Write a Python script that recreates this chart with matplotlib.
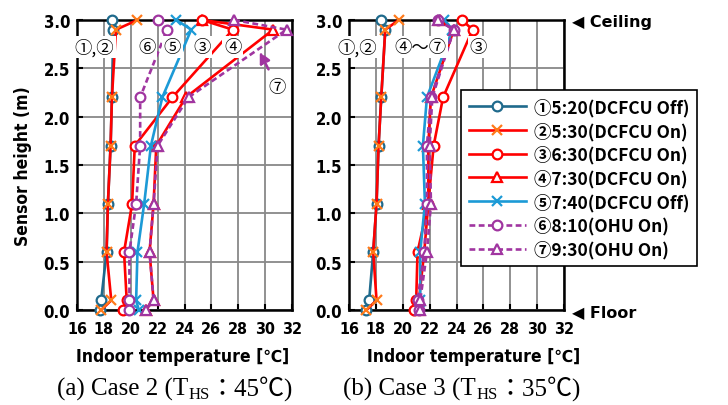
import matplotlib
matplotlib.use('Agg')

import matplotlib.pyplot as plt
from matplotlib.lines import Line2D

# sensor heights (m)
heights = [3.0, 2.9, 2.2, 1.7, 1.1, 0.6, 0.1, 0.0]

labels = ['①5:20(DCFCU Off)', '②5:30(DCFCU On)', '③6:30(DCFCU On)',
          '④7:30(DCFCU On)', '⑤7:40(DCFCU Off)', '⑥8:10(OHU On)', '⑦9:30(OHU On)']

# (a) Case 2 temperatures (degC)
case2_t1 = [18.6, 18.7, 18.6, 18.5, 18.3, 18.2, 17.8, 17.7]
case2_t2 = [20.5, 18.9, 18.6, 18.5, 18.3, 18.2, 18.55, 17.8]
case2_t3 = [25.3, 27.6, 23.1, 20.3, 20.1, 19.5, 19.7, 19.4]
case2_t4 = [25.3, 30.6, 24.1, 21.9, 21.7, 21.4, 21.7, 21.1]
case2_t5 = [23.4, 24.5, 22.35, 21.5, 21.0, 20.5, 20.4, 20.6]
case2_t6 = [22.0, 22.7, 20.7, 20.7, 20.4, 19.9, 19.9, 19.9]
case2_t7 = [27.7, 31.6, 24.3, 22.0, 21.7, 21.4, 21.7, 21.1]

# (b) Case 3 temperatures (degC)
case3_t1 = [18.4, 18.7, 18.4, 18.2, 18.05, 17.8, 17.5, 17.3]
case3_t2 = [19.7, 18.7, 18.4, 18.2, 18.05, 17.8, 18.05, 17.3]
case3_t3 = [24.4, 25.2, 23.0, 22.3, 21.9, 21.1, 21.0, 20.8]
case3_t4 = [22.8, 23.8, 22.1, 21.9, 21.9, 21.6, 21.2, 21.2]
case3_t5 = [23.1, 23.7, 21.8, 21.5, 21.65, 21.3, 21.3, 21.3]
case3_t6 = [22.6, 23.8, 22.1, 21.8, 21.8, 21.6, 21.1, 21.2]
case3_t7 = [22.6, 23.8, 22.2, 22.0, 22.1, 21.8, 21.3, 21.3]

xticks = [16, 18, 20, 22, 24, 26, 28, 30, 32]
yticks = [0.0, 0.5, 1.0, 1.5, 2.0, 2.5, 3.0]

TEAL = '#1f6a8c'
RED = '#ff0000'
ORANGE = '#ff7a1a'
BLUE = '#1c9ad6'
PURPLE = '#a035a0'

styles = [
    dict(color=TEAL, marker='o', ls='-', mfc='white', mec=TEAL, z=3.0),
    dict(color=RED, marker='x', ls='-', mfc='none', mec=ORANGE, z=3.1),
    dict(color=RED, marker='o', ls='-', mfc='white', mec=RED, z=3.3),
    dict(color=RED, marker='^', ls='-', mfc='white', mec=RED, z=3.2),
    dict(color=BLUE, marker='x', ls='-', mfc='none', mec=BLUE, z=3.4),
    dict(color=PURPLE, marker='o', ls=(0, (2.2, 1.3)), mfc='white', mec=PURPLE, z=3.5),
    dict(color=PURPLE, marker='^', ls=(0, (2.2, 1.3)), mfc='white', mec=PURPLE, z=3.6),
]

SANS = ['DejaVu Sans']
JP = ['Noto Sans CJK JP', 'DejaVu Sans']

fig = plt.figure(figsize=(7.28, 4.06), dpi=100)
W, H = 728, 406


def px_axes(x0, x1, y0, y1):
    return fig.add_axes([x0 / W, 1 - y1 / H, (x1 - x0) / W, (y1 - y0) / H])


ax_a = px_axes(77, 292, 21, 311)
ax_b = px_axes(349, 564, 21, 311)

for ax, data in [(ax_a, [case2_t1, case2_t2, case2_t3, case2_t4, case2_t5, case2_t6, case2_t7]),
                 (ax_b, [case3_t1, case3_t2, case3_t3, case3_t4, case3_t5, case3_t6, case3_t7])]:
    for vals, st, lab in zip(data, styles, labels):
        ax.plot(vals, heights, color=st['color'], ls=st['ls'], lw=1.9,
                marker=st['marker'], ms=7, mfc=st['mfc'], mec=st['mec'],
                mew=1.6, label=lab, clip_on=False, zorder=st['z'])
    ax.set_xlim(16, 32)
    ax.set_ylim(0, 3)
    ax.set_xticks(xticks)
    ax.set_yticks(yticks)
    ax.set_xticklabels([str(t) for t in xticks], family=SANS, fontweight='bold',
                       fontsize=11.5, fontstretch='condensed')
    ax.set_yticklabels([f'{t:.1f}' for t in yticks], family=SANS, fontweight='bold',
                       fontsize=12, fontstretch='condensed')
    ax.grid(True, color='#888888', lw=1.3)
    ax.set_axisbelow(True)
    ax.tick_params(direction='in', length=4, width=1.5, color='black')
    ax.tick_params(axis='x', pad=8)
    ax.tick_params(axis='y', pad=5)
    for sp in ax.spines.values():
        sp.set_linewidth(1.8)
        sp.set_color('black')
        sp.set_zorder(2.5)

fig.text(23 / W, 1 - 166 / H, 'Sensor height (m)', family=SANS, fontweight='bold',
         fontsize=12.5, fontstretch='condensed', rotation=90, ha='center', va='center')

box = dict(boxstyle='square,pad=0.1', fc='white', ec='none')
for txt, x in [('①,②', 17.3), ('⑥', 21.2), ('⑤', 23.1), ('③', 25.3), ('④', 27.6)]:
    ax_a.text(x, 2.72, txt, family=JP, fontsize=12.5, ha='center', va='center',
              bbox=box, zorder=6, clip_on=False)
ax_a.annotate('⑦', xy=(29.6, 2.67), xytext=(30.9, 2.31), family=JP, fontsize=12.5,
              ha='center', va='center', zorder=6,
              bbox=dict(boxstyle='square,pad=0.05', fc='white', ec='none'),
              arrowprops=dict(arrowstyle='-|>', color=PURPLE, lw=1.8, ls='--',
                              mutation_scale=16, shrinkA=6, shrinkB=0))

for txt, x in [('①,②', 16.6), ('④～⑦', 21.3), ('③', 25.6)]:
    ax_b.text(x, 2.72, txt, family=JP, fontsize=12.5, ha='center', va='center',
              bbox=box, zorder=6, clip_on=False)

for xc in (183, 474):
    fig.text(xc / W, 1 - 357 / H, 'Indoor temperature [℃]', family=['DejaVu Sans', 'Noto Sans CJK JP'],
             fontweight='bold', fontsize=12.5, fontstretch='condensed', ha='center', va='center')

fig.text(572 / W, 1 - 22 / H, '◀ Ceiling', family=SANS, fontweight='bold',
         fontsize=11.5, ha='left', va='center')
fig.text(572 / W, 1 - 313 / H, '◀ Floor', family=SANS, fontweight='bold',
         fontsize=11.5, ha='left', va='center')

handles = [Line2D([], [], color=st['color'], ls=st['ls'], lw=1.9, marker=st['marker'], ms=7,
                  mfc=st['mfc'], mec=st['mec'], mew=1.6) for st in styles]
leg = fig.legend(handles, labels, loc='upper left', bbox_to_anchor=(461 / W, 1 - 91 / H),
                 prop={'family': JP, 'weight': 'bold', 'size': 12.5},
                 frameon=True, fancybox=False, edgecolor='black', framealpha=1,
                 handlelength=3.3, handletextpad=0.45, labelspacing=0.3,
                 borderpad=0.45, borderaxespad=0)
leg.get_frame().set_linewidth(1.2)

# captions with subscript HS, laid out piece by piece
SERIF = ['Liberation Serif', 'Noto Sans CJK JP']
fig.canvas.draw()
renderer = fig.canvas.get_renderer()


def caption(xc, yc, head, tail):
    parts = [(head, 18, 0), ('HS', 12, -3), (tail, 18, 0)]
    objs = []
    for s, fs, dy in parts:
        t = fig.text(0, 0, s, family=SERIF, fontsize=fs, ha='left', va='baseline')
        objs.append((t, dy))
    widths = [t.get_window_extent(renderer).width for t, _ in objs]
    x = xc - sum(widths) / 2
    for (t, dy), w in zip(objs, widths):
        t.set_position((x / W, 1 - (yc - dy) / H))
        x += w


caption(175, 396, '(a) Case 2 (T', '：45℃)')
caption(462, 396, '(b) Case 3 (T', '：35℃)')

fig.savefig('out.png', dpi=100)
